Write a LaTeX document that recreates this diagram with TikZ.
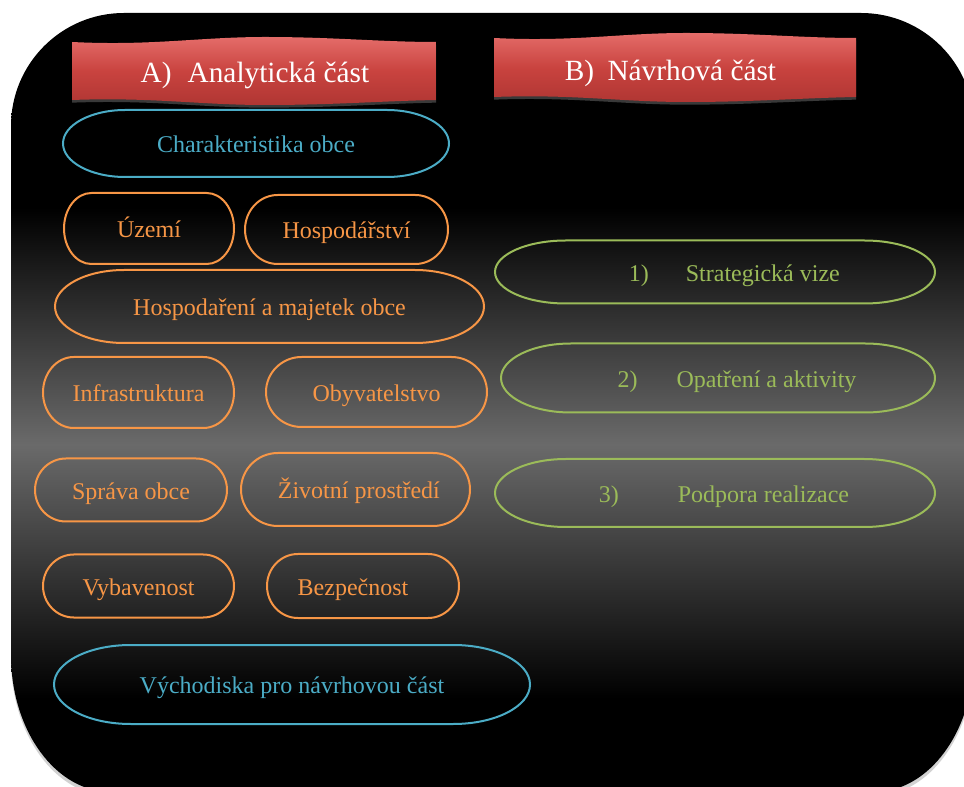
\documentclass[tikz,border=0pt]{standalone}
\usepackage{fontspec}
\setmainfont{Liberation Serif}
\usetikzlibrary{calc, shadows}
\definecolor{cblue}{HTML}{4BACC6}
\definecolor{corange}{HTML}{F79646}
\definecolor{cgreen}{HTML}{9BBB59}
\definecolor{cbodygrey}{HTML}{6A6A6A}
\definecolor{credtop}{HTML}{E46C69}
\definecolor{credmid}{HTML}{C9433F}
\definecolor{credbot}{HTML}{B03633}
\pgfdeclareverticalshading{bodyshade}{100bp}{color(0bp)=(black); color(31bp)=(black); color(47.3bp)=(cbodygrey); color(62.5bp)=(black); color(100bp)=(black)}
\tikzset{
  every picture/.style={x=0.75pt, y=-0.75pt},
  pill/.style={text=#1, font=\fontsize{18}{22}\selectfont, inner sep=0pt, outer sep=0pt, text height=18pt, text depth=4pt},
  boxsize/.style 2 args={minimum width=#1*0.75pt, minimum height=#2*0.75pt},
  outline/.style={draw=#1, line width=1.5pt},
  banner/.style={top color=credtop, bottom color=credbot, middle color=credmid, drop shadow={opacity=0.45, shadow xshift=0pt, shadow yshift=-2pt}},
  title/.style={text=white, font=\fontsize{22}{26}\selectfont, inner sep=0pt, anchor=base},
}
% terminator outline round a named node
\newcommand{\termshape}[2]{%
  \draw[outline=#2] let \p1=(#1.south west), \p2=(#1.north east),
      \n1={0.161*(\x2-\x1)}, \n2={0.5*(\y2-\y1)} in
    (\x1+\n1,\y2) -- (\x2-\n1,\y2)
    arc[start angle=90, end angle=-90, x radius=\n1, y radius=\n2]
    -- (\x1+\n1,\y1)
    arc[start angle=270, end angle=90, x radius=\n1, y radius=\n2] -- cycle;}
% wavy header band: left, top, right, bottom
\newcommand{\wavebanner}[4]{%
  \path[banner] (#1,#2)
    .. controls ({#1+0.22*(#3-#1)},{#2+4}) and ({#1+0.35*(#3-#1)},{#2-5}) .. ({#1+0.53*(#3-#1)},{#2-5})
    .. controls ({#1+0.72*(#3-#1)},{#2-5}) and ({#1+0.85*(#3-#1)},{#2}) .. (#3,#2)
    -- (#3,#4)
    .. controls ({#1+0.85*(#3-#1)},{#4+1}) and ({#1+0.72*(#3-#1)},{#4+5}) .. ({#1+0.53*(#3-#1)},{#4+5})
    .. controls ({#1+0.35*(#3-#1)},{#4+5}) and ({#1+0.22*(#3-#1)},{#4-3}) .. (#1,#4)
    -- cycle;}

\begin{document}
\begin{tikzpicture}
  \fill[white] (0,0) rectangle (964,787);
  \useasboundingbox (0,0) rectangle (964,787);
  % background panel
  \path[shading=bodyshade, drop shadow={opacity=0.35, shadow xshift=0pt, shadow yshift=-3pt}]
    (11,126) .. controls (11,63.6) and (61.6,13) .. (124,13) -- (861,13)
    .. controls (923.4,13) and (974,63.6) .. (974,126) -- (974,655)
    .. controls (974,730.6) and (929.2,792) .. (874,792) -- (111,792)
    .. controls (55.8,792) and (11,730.6) .. (11,655) -- cycle;

  % headers
  \wavebanner{72}{42}{436}{100}
  \wavebanner{494}{38}{856}{97}
  \node[title] (titleA) at (255,83) {A)\hspace{12pt}Analytická část};
  \node[title] (titleB) at (670.5,81) {B)\hspace{10pt}Návrhová část};

  % part A
  \node[pill=cblue, boxsize={386}{67}] (char) at (256,143.5) {Charakteristika obce};
  \node[pill=corange, boxsize={170}{71}] (uzemi) at (149,228.5) {Území};
  \node[pill=corange, boxsize={203}{69}] (hosp) at (346.5,229.5) {Hospodářství};
  \node[pill=corange, boxsize={429}{73}] (majetek) at (269.5,306.5) {Hospodaření a majetek obce};
  \node[pill=corange, boxsize={191}{71}] (infra) at (138.5,392.5) {Infrastruktura};
  \node[pill=corange, boxsize={221}{70}] (obyv) at (376.5,392) {Obyvatelstvo};
  \node[pill=corange, boxsize={192}{63}] (sprava) at (131,490) {Správa obce};
  \node[pill=corange, boxsize={229}{73}] (zivot) at (355.5,489.5) {\hspace*{5pt}Životní prostředí};
  \node[pill=corange, boxsize={191}{63}] (vybav) at (138.5,586) {Vybavenost};
  \node[pill=corange, boxsize={192}{64}] (bezp) at (363,586) {Bezpečnost\hspace*{15pt}};
  \node[pill=cblue, boxsize={476}{79}] (vychod) at (292,684.5) {Východiska pro návrhovou část};

  % part B
  \node[pill=cgreen, boxsize={440}{63}] (vize) at (715,272) {\hspace*{29pt}1)\hspace{27.75pt}Strategická vize};
  \node[pill=cgreen, boxsize={434}{69}] (opatr) at (718,378) {\hspace*{28.5pt}2)\hspace{29.25pt}Opatření a aktivity};
  \node[pill=cgreen, boxsize={440}{68}] (podpora) at (715,493) {\hspace*{13.5pt}3)\hspace{44.25pt}Podpora realizace};

  \foreach \nd/\cl in {char/cblue, uzemi/corange, hosp/corange, majetek/corange, infra/corange,
      obyv/corange, sprava/corange, zivot/corange, vybav/corange, bezp/corange, vychod/cblue,
      vize/cgreen, opatr/cgreen, podpora/cgreen}
    {\termshape{\nd}{\cl}}
\end{tikzpicture}
\end{document}
